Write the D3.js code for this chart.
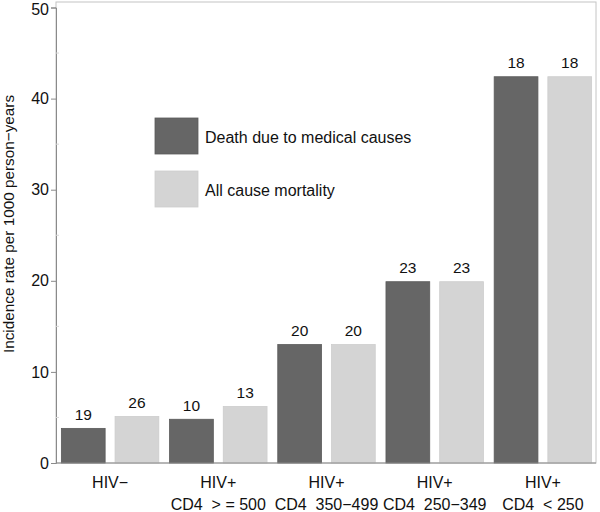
<!DOCTYPE html>
<html>
<head>
<meta charset="utf-8">
<script src="https://cdn.jsdelivr.net/npm/d3@7"></script>
<style>
  html, body { margin: 0; padding: 0; background: #fff; }
  svg { display: block; font-family: "Liberation Sans", Arial, Helvetica, sans-serif; }
  text { white-space: pre; }
</style>
</head>
<body>
<svg id="chart" width="600" height="512"></svg>
<script>
const categories = ["HIV−", "HIV+", "HIV+", "HIV+", "HIV+"];
const subLabels = ["", "CD4  > = 500", "CD4  350−499", "CD4  250−349", "CD4  < 250"];
const seriesNames = ["Death due to medical causes", "All cause mortality"];
const medicalRates = [3.8, 4.8, 13.0, 19.9, 42.4];
const allCauseRates = [5.1, 6.2, 13.0, 19.9, 42.4];
const medicalCounts = [19, 10, 20, 23, 18];
const allCauseCounts = [26, 13, 20, 23, 18];
const yTicks = [0, 10, 20, 30, 40, 50];
const yMinorTicks = [5, 15, 25, 35, 45];
const colors = ["#666666", "#d4d4d4"];

(function () {
const svg = d3.select("#chart");
const mLeft = 56, mRight = 596, mTop = 7.5, mBottom = 463;

const y = d3.scaleLinear().domain([0, 50]).range([mBottom, mTop]);
const x0 = d3.scaleBand().domain(d3.range(categories.length)).range([mLeft, 597]).padding(0);
const x1 = d3.scaleBand().domain([0, 1]).range([0, x0.bandwidth()]).paddingInner(0.185).paddingOuter(0.1);

// frame
svg.append("rect").attr("x", mLeft).attr("y", 2).attr("width", mRight - mLeft).attr("height", mBottom - 2)
  .attr("fill", "none").attr("stroke", "#c4c4c4").attr("stroke-width", 1);

// bars
const rows = categories.map((c, i) => ({
  i,
  vals: [
    { s: 0, v: medicalRates[i], n: medicalCounts[i] },
    { s: 1, v: allCauseRates[i], n: allCauseCounts[i] }
  ]
}));
const g = svg.selectAll("g.grp").data(rows).join("g").attr("class", "grp")
  .attr("transform", d => `translate(${x0(d.i)},0)`);
g.selectAll("rect").data(d => d.vals).join("rect")
  .attr("x", d => x1(d.s)).attr("width", x1.bandwidth())
  .attr("y", d => y(d.v)).attr("height", d => y(0) - y(d.v))
  .attr("fill", d => colors[d.s])
  .attr("stroke", d => d.s === 0 ? "#5a5a5a" : "#cdcdcd").attr("stroke-width", 0.8);
g.selectAll("text.val").data(d => d.vals).join("text").attr("class", "val")
  .attr("x", d => x1(d.s) + x1.bandwidth() / 2).attr("y", d => y(d.v) - 8.5)
  .attr("text-anchor", "middle").attr("font-size", 15.5).attr("fill", "#111")
  .text(d => d.n);

// y axis
const yAxis = svg.append("g").attr("transform", `translate(${mLeft},0)`)
  .call(d3.axisLeft(y).tickValues(yTicks).tickSize(5).tickPadding(2).tickFormat(d3.format("d")));
yAxis.select(".domain").attr("stroke", "#8a8a8a");
yAxis.selectAll(".tick line").attr("stroke", "#8a8a8a");
yAxis.selectAll(".tick text").attr("font-size", 16).attr("fill", "#111")
  .attr("font-family", "Liberation Sans, Arial, sans-serif")
  .attr("y", d => d === 50 ? 2 : 0);
svg.append("g").selectAll("line").data(yMinorTicks).join("line")
  .attr("x1", mLeft).attr("x2", mLeft + 3).attr("y1", d => y(d)).attr("y2", d => y(d))
  .attr("stroke", "#d8d8d8");

// x axis line
svg.append("line").attr("x1", mLeft).attr("x2", mRight).attr("y1", mBottom).attr("y2", mBottom)
  .attr("stroke", "#8a8a8a");

// x labels
const xl = svg.append("g");
categories.forEach((c, i) => {
  const cx = x0(i) + x0.bandwidth() / 2;
  xl.append("text").attr("x", cx).attr("y", 488).attr("text-anchor", "middle")
    .attr("font-size", 16).attr("fill", "#111").text(c);
  if (subLabels[i]) xl.append("text").attr("x", cx).attr("y", 510).attr("text-anchor", "middle")
    .attr("font-size", 16).attr("fill", "#111").text(subLabels[i]);
});

// y title
svg.append("text").attr("transform", `translate(14,${224}) rotate(-90)`)
  .attr("text-anchor", "middle").attr("font-size", 15.3).attr("fill", "#111")
  .text("Incidence rate per 1000 person−years");

// legend
const legY = [118, 171];
const leg = svg.append("g");
seriesNames.forEach((s, i) => {
  leg.append("rect").attr("x", 155).attr("y", legY[i]).attr("width", 43).attr("height", 36)
    .attr("fill", colors[i]).attr("stroke", i === 0 ? "#5a5a5a" : "#cdcdcd").attr("stroke-width", 0.8);
  leg.append("text").attr("x", 205).attr("y", legY[i] + 25).attr("font-size", 16).attr("fill", "#111").text(s);
});
})();
</script>
</body>
</html>
